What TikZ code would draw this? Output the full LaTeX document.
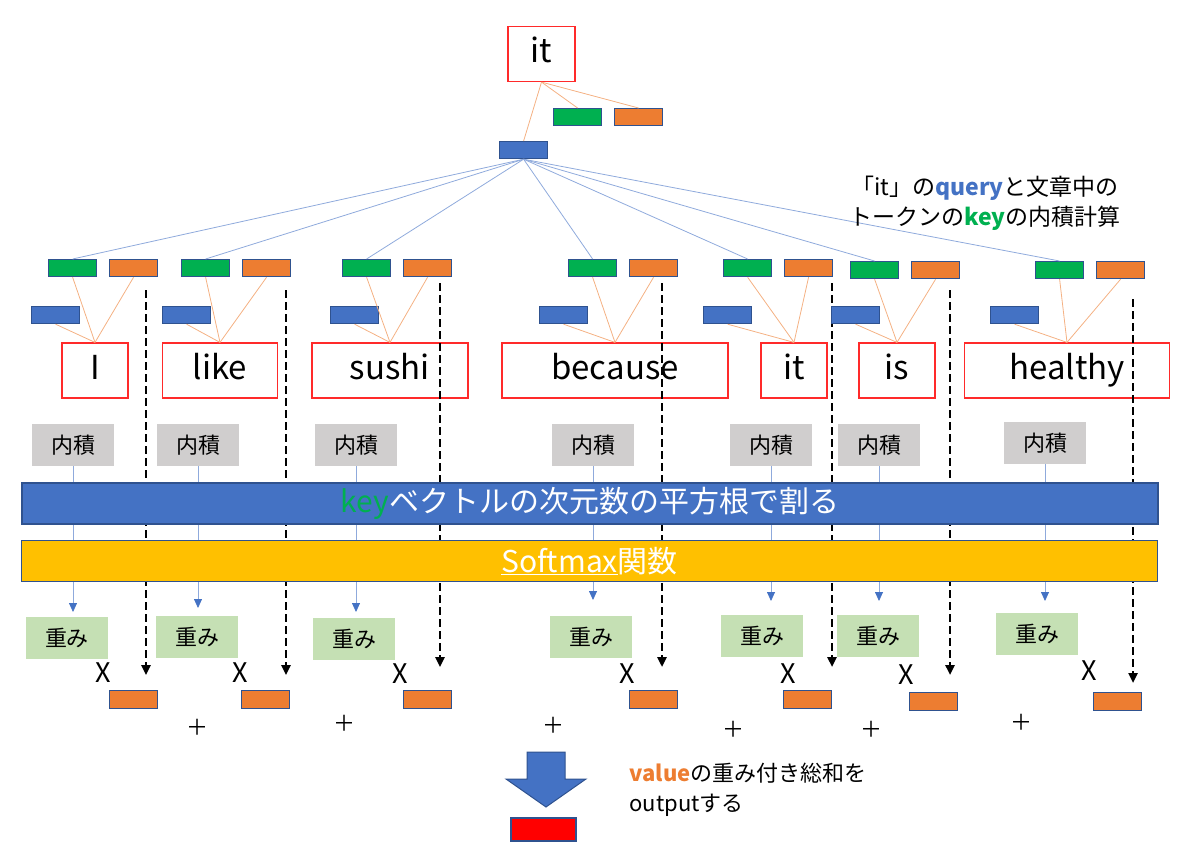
\documentclass[tikz,border=0pt]{standalone}
\usepackage{fontspec}
\setmainfont{Noto Sans CJK JP}
\usetikzlibrary{arrows.meta}
\definecolor{qblue}{HTML}{4472C4}
\definecolor{kgreen}{HTML}{00B050}
\definecolor{vorange}{HTML}{ED7D31}
\definecolor{rimblue}{HTML}{2F528F}
\definecolor{lineorange}{HTML}{F4B183}
\definecolor{lineblue}{HTML}{8FAADC}
\definecolor{tokred}{HTML}{FF2A2A}
\definecolor{dotgray}{HTML}{D0CECE}
\definecolor{wgreen}{HTML}{C5E0B4}
\definecolor{ybar}{HTML}{FFC000}
\begin{document}
\begin{tikzpicture}[x=1pt,y=-1pt]
      \tikzset{vecbox/.style = {draw=rimblue,line width=1.2pt,minimum width=48pt,minimum height=17pt,inner sep=0pt}}
      \tikzset{keybox/.style = {vecbox,fill=kgreen}}
      \tikzset{valbox/.style = {vecbox,fill=vorange}}
      \tikzset{qrybox/.style = {vecbox,fill=qblue}}
      \tikzset{tokbox/.style = {draw=tokred,line width=1.2pt,minimum height=55pt,inner sep=0pt,
          font=\fontsize{33}{38}\selectfont,text height=24pt,text depth=6pt}}
      \tikzset{dotbox/.style = {fill=dotgray,minimum width=82pt,minimum height=42pt,inner sep=0pt,font=\fontsize{22}{26}\selectfont}}
      \tikzset{wbox/.style = {fill=wgreen,minimum width=82pt,minimum height=42pt,inner sep=0pt,font=\fontsize{22}{26}\selectfont}}
      \tikzset{opbar/.style = {draw=rimblue,line width=1.5pt,minimum width=1136pt,minimum height=41pt,inner sep=0pt,
          text=white,font=\fontsize{30}{34}\selectfont}}
      \tikzset{plus/.style = {font=\fontsize{22}{26}\selectfont}}
      \tikzset{qline/.style = {lineblue,line width=0.8pt}}
      \tikzset{kline/.style = {lineorange,line width=0.8pt}}
      \tikzset{flow/.style = {lineblue,line width=0.8pt,-{Triangle[length=9pt,width=8pt,color=qblue]}}}
      \tikzset{valflow/.style = {black,line width=2.4pt,dash pattern=on 8pt off 4pt,-{Triangle[length=10pt,width=9pt]}}}
      \useasboundingbox (0,0) rectangle (1200,856);

      % the query token
      \node[tokbox,minimum width=67pt] (itq) at (541.5,54) {it};
      \node[keybox,anchor=north west] (qk) at (553,108) {};
      \node[valbox,anchor=north west] (qv) at (614,108) {};
      \node[qrybox,anchor=north west] (q) at (499,141) {};
      \draw[kline] (itq.south) -- (qk.north);
      \draw[kline] (itq.south) -- (qv.north);
      \draw[kline] (itq.south) -- (q.north);

      % tokens of the sentence
      \foreach \i/\word/\tx/\tw/\gx/\ky/\bx/\dx/\ds/\de/\ix/\iy/\wx/\wy/\tip/\xx/\xy/\vx/\vy in {
          1/I/95/66/48/259/31/146/290/675/73/424/67/617/612/103/673/109/690,
          2/like/220/115/181/259/162/286/290/675/198/424/197/616/608/240/673/241/690,
          3/sushi/390/156/342/259/330/440/283/667/356/424/354/618/612/400/674/403/690,
          4/because/615/226/568/259/539/662/283/667/593/424/591/616/600/627/674/629/690,
          5/it/794/66/723/259/703/832/283/667/771/424/762/615/601/788/674/783/690,
          6/is/897/76/850/261/831/950/290/675/879/424/878/615/601/906/675/909/692,
          7/healthy/1067/205/1035/261/990/1133/299/683/1045/422/1037/613/601/1089/671/1093/692} {
        \node[keybox,anchor=north west] (k\i) at (\gx,\ky) {};
        \node[valbox,anchor=north west] (v\i) at (\gx+61,\ky) {};
        \node[qrybox,anchor=north west] (b\i) at (\bx,306) {};
        \node[tokbox,minimum width=\tw pt] (t\i) at (\tx,370.5) {\word};
        \node[dotbox,anchor=north] (d\i) at (\ix,\iy) {内積};
        \node[wbox,anchor=north] (w\i) at (\wx,\wy) {重み};
        \node[font=\fontsize{27}{30}\selectfont] (x\i) at (\xx,\xy) {X};
        \node[valbox,anchor=north west,minimum height=18pt] (o\i) at (\vx,\vy) {};
        \coordinate (a\i) at (\ix,\tip);
        \coordinate (s\i) at (\dx,\ds);
        \coordinate (e\i) at (\dx,\de);

        \draw[qline] (q.south) -- (k\i.north);
        \draw[kline] (k\i.south) -- (t\i.north);
        \draw[kline] (v\i.south) -- (t\i.north);
        \draw[kline] (b\i.south) -- (t\i.north);
        \draw[flow] (d\i.south) -- (a\i);
        \draw[valflow] (s\i) -- (e\i);
      }

      % the two operations
      \node[opbar,fill=qblue] (scaling) at (590,503.5) {{\color{kgreen}key}ベクトルの次元数の平方根で割る};
      \node[opbar,fill=ybar] (softmax) at (589.5,561) {\underline{Softmax}関数};

      % weighted sum
      \node[plus] (p1) at (197,727) {＋};
      \node[plus] (p2) at (344,723) {＋};
      \node[plus] (p3) at (553,725) {＋};
      \node[plus] (p4) at (733,729) {＋};
      \node[plus] (p5) at (871,729) {＋};
      \node[plus] (p6) at (1021,722) {＋};

      \draw[draw=rimblue,fill=qblue,line width=1pt] (527,752) -- (565,752) -- (565,779) -- (586,779)
          -- (546,807) -- (506,779) -- (527,779) -- cycle;
      \node[vecbox,fill=red,minimum width=65pt,minimum height=23pt] (out) at (543.5,829.5) {};

      % notes
      \node[align=center,font=\fontsize{23}{30}\selectfont] (qnote) at (985,203)
          {「it」の{\bfseries\color{qblue}query}と文章中の\\トークンの{\bfseries\color{kgreen}key}の内積計算};
      \node[align=left,anchor=west,font=\fontsize{22}{30}\selectfont] (vnote) at (626,790)
          {{\bfseries\color{vorange}value}の重み付き総和を\\outputする};
\end{tikzpicture}
\end{document}
